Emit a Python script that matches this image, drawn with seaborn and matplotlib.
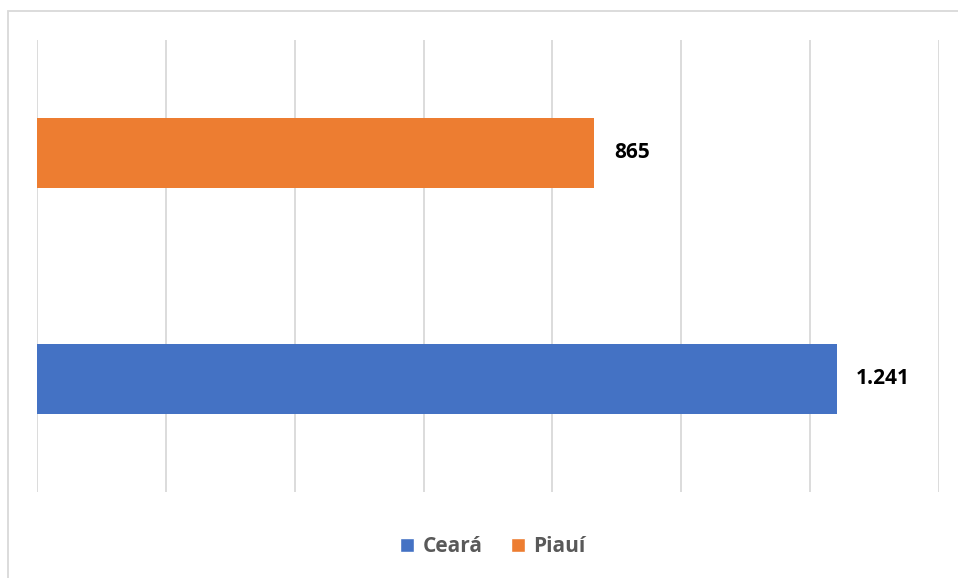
import matplotlib
matplotlib.use("Agg")
import matplotlib.pyplot as plt
import pandas as pd
import seaborn as sns
from matplotlib.patches import Rectangle, Patch

estados = ["Piauí", "Ceará"]
valores = [865, 1241]
rotulos = ["865", "1.241"]
cores = {"Ceará": "#4472C4", "Piauí": "#ED7D31"}

sns.set_theme(style="white")
plt.rcParams["font.family"] = ["Open Sans", "DejaVu Sans"]

df = pd.DataFrame({"estado": estados, "valor": valores})

fig = plt.figure(figsize=(9.58, 5.78), dpi=100)
ax = fig.add_axes([37 / 958, 86 / 578, 902 / 958, 452 / 578])

sns.barplot(data=df, y="estado", x="valor", hue="estado", order=estados,
            palette=cores, width=0.314, legend=False, ax=ax, saturation=1,
            linewidth=0)

ax.set_xlim(0, 1400)
ax.set_xticks(range(0, 1401, 200))
ax.set_xticklabels([])
ax.set_yticklabels([])
ax.tick_params(length=0)
ax.set_xlabel("")
ax.set_ylabel("")
ax.grid(axis="x", color="#D9D9D9", linewidth=1.3)
ax.set_axisbelow(True)
for s in ax.spines.values():
    s.set_visible(False)

for i, (v, r) in enumerate(zip(valores, rotulos)):
    ax.annotate(r, xy=(v, i), xytext=(14, 0), textcoords="offset points",
                ha="left", va="center", fontsize=15, fontweight="bold",
                color="#000000")

# chart frame (cut off at right and bottom)
fig.patches.append(Rectangle((8 / 958, -0.1), 1.2, (578 - 11) / 578 + 0.1,
                             transform=fig.transFigure, fill=False,
                             edgecolor="#D9D9D9", linewidth=1.3))

handles = [Patch(facecolor=cores["Ceará"], label="Ceará"),
           Patch(facecolor=cores["Piauí"], label="Piauí")]
leg = fig.legend(handles=handles, loc="center", bbox_to_anchor=(493 / 958, 1 - 547 / 578),
                 ncol=2, frameon=False, handlelength=0.65, handleheight=0.65,
                 handletextpad=0.4, columnspacing=1.4,
                 prop={"size": 15, "weight": "bold"})
for t in leg.get_texts():
    t.set_color("#595959")

fig.savefig("out.png", dpi=100, facecolor="white")
